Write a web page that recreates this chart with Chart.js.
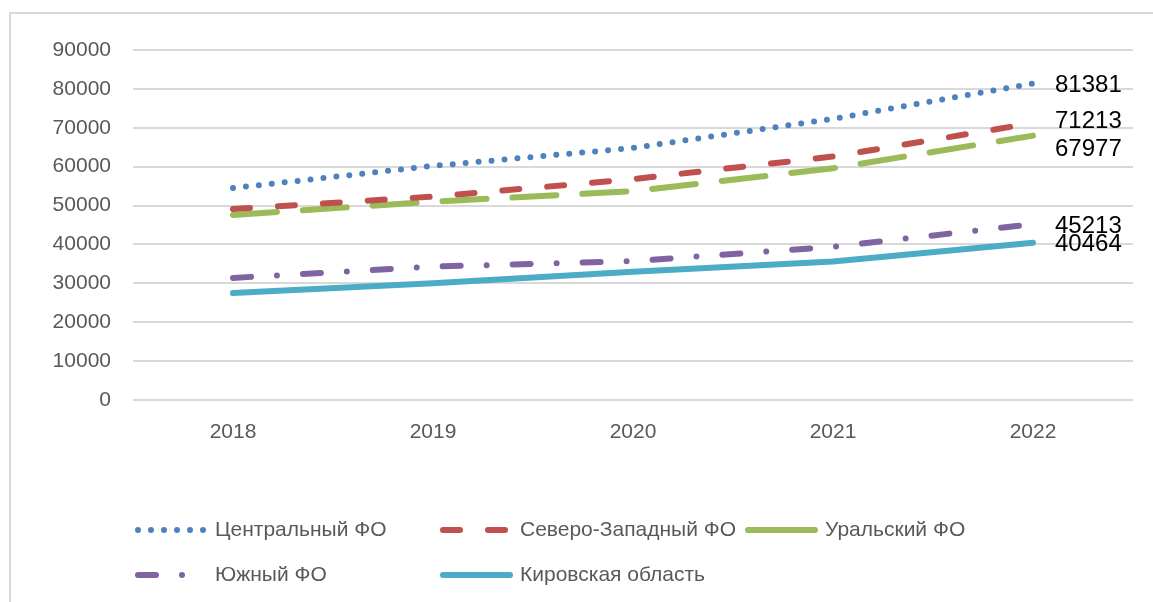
<!DOCTYPE html>
<html lang="ru">
  <head>
    <meta charset="utf-8">
    <title>Chart</title>
    <script src="https://cdn.jsdelivr.net/npm/chart.js@4.4.1/dist/chart.umd.min.js"></script>
    <style>
      html, body { margin: 0; padding: 0; background: #fff; }
      #wrap { position: relative; width: 1153px; height: 602px; overflow: hidden; }
    </style>
  </head>
  <body>
    <div id="wrap">
      <canvas id="chart" width="1153" height="602"></canvas>
    </div>

    <script type="text/javascript">

    var years = ["2018", "2019", "2020", "2021", "2022"]

    var seriesNames = [
      "Центральный ФО",
      "Северо-Западный ФО",
      "Уральский ФО",
      "Южный ФО",
      "Кировская область"
    ]

    var central = [54500, 60200, 64800, 72300, 81381]
    var northWest = [49100, 52300, 56800, 62600, 71213]
    var ural = [47600, 51000, 53700, 59600, 67977]
    var south = [31400, 34300, 35700, 39400, 45213]
    var kirov = [27500, 30000, 33000, 35600, 40464]

    var yTicks = [0, 10000, 20000, 30000, 40000, 50000, 60000, 70000, 80000, 90000]

    // styles for each line (colour, width, dash)
    var colors = ["#4F81BD", "#C0504D", "#9BBB59", "#8064A2", "#4BACC6"]
    var dashes = [[0, 13], [17, 28], [44, 26], [18, 26, 0, 26], []]
    var widths = [6, 6, 6, 6, 6]
    // vertical nudge of the end labels so they don't overlap
    var labelShift = [2, -2, 14, 2, 2]

    var allValues = [central, northWest, ural, south, kirov]

    var datasets = []
    for (var i = 0; i < allValues.length; i++) {
      datasets.push({
        label: seriesNames[i],
        data: allValues[i],
        borderColor: colors[i],
        backgroundColor: colors[i],
        borderWidth: widths[i],
        borderDash: dashes[i],
        borderCapStyle: 'round',
        pointRadius: 0,
        tension: 0,
        fill: false
      })
    }

    var font = "'Liberation Sans', Arial, sans-serif"

    // frame, end labels and the legend are drawn by hand
    var extras = {
      id: 'extras',
      beforeDraw: function(chart) {
        var ctx = chart.ctx
        ctx.save()
        ctx.fillStyle = '#fff'
        ctx.fillRect(0, 0, chart.width, chart.height)
        ctx.strokeStyle = '#d9d9d9'
        ctx.lineWidth = 2
        ctx.strokeRect(10, 13, 1300, 800)
        ctx.restore()
      },
      afterDatasetsDraw: function(chart) {
        var ctx = chart.ctx
        ctx.save()
        ctx.font = "24px " + font
        ctx.fillStyle = '#000'
        ctx.textAlign = 'left'
        ctx.textBaseline = 'middle'
        chart.data.datasets.forEach(function(ds, i) {
          var meta = chart.getDatasetMeta(i)
          var last = meta.data[meta.data.length - 1]
          ctx.fillText(ds.data[ds.data.length - 1], last.x + 22, last.y + labelShift[i])
        })
        ctx.restore()

        // legend
        var colX = [135, 440, 745]
        var rowY = [530, 575]
        ctx.save()
        ctx.font = "21px " + font
        ctx.textBaseline = 'middle'
        chart.data.datasets.forEach(function(ds, i) {
          var x = colX[i % 3]
          var y = rowY[Math.floor(i / 3)]
          ctx.strokeStyle = ds.borderColor
          ctx.lineWidth = ds.borderWidth
          ctx.lineCap = 'round'
          var d = ds.borderDash
          // the green sample shows as one long dash in the reference
          ctx.setLineDash(d.length == 2 && d[0] > 40 ? [] : d)
          ctx.beginPath()
          ctx.moveTo(x + 3, y)
          ctx.lineTo(x + 70, y)
          ctx.stroke()
          ctx.setLineDash([])
          ctx.fillStyle = '#595959'
          ctx.fillText(ds.label, x + 80, y)
        })
        ctx.restore()
      }
    }

    var ctx = document.getElementById('chart').getContext('2d')
    var chart = new Chart(ctx, {
      type: 'line',
      data: {
        labels: years,
        datasets: datasets
      },
      options: {
        responsive: false,
        animation: false,
        devicePixelRatio: 1,
        layout: {
          padding: { top: 50, right: 20, left: 0, bottom: 0 }
        },
        plugins: {
          legend: { display: false },
          tooltip: { enabled: false }
        },
        scales: {
          x: {
            offset: true,
            grid: { display: false, drawTicks: false },
            border: { display: false },
            ticks: {
              color: '#595959',
              font: { family: font, size: 21 },
              padding: 20
            },
            afterFit: function(s) { s.height = 202 }
          },
          y: {
            min: 0,
            max: 90000,
            afterBuildTicks: function(s) {
              s.ticks = yTicks.map(function(v) { return { value: v } })
            },
            grid: { color: '#d9d9d9', lineWidth: 2, drawTicks: false },
            border: { display: false },
            ticks: {
              color: '#595959',
              font: { family: font, size: 21 },
              padding: 22,
              callback: function(v) { return String(v) }
            },
            afterFit: function(s) { s.width = 133 }
          }
        }
      },
      plugins: [extras]
    })

    </script>
  </body>
</html>
